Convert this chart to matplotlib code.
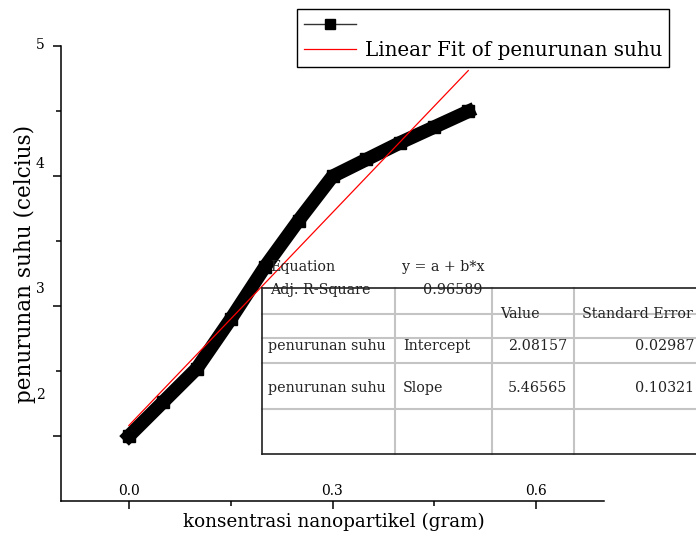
import numpy as np
import matplotlib
matplotlib.use('Agg')
import matplotlib.pyplot as plt
import matplotlib.transforms as mtransforms
from matplotlib.lines import Line2D
from matplotlib.patches import Rectangle

plt.rcParams['font.family'] = ['DejaVu Serif']

# konsentrasi nanopartikel (gram) vs penurunan suhu (celcius)
konsentrasi = np.array([0.0, 0.05, 0.1, 0.15, 0.2, 0.25, 0.3, 0.35, 0.4, 0.45, 0.5])
penurunan_suhu = np.array([2.00, 2.26, 2.52, 2.90, 3.30, 3.66, 4.00, 4.13, 4.26, 4.38, 4.50])

# hasil linear fit
intercept, intercept_err = 2.08157, 0.02987
slope, slope_err = 5.46565, 0.10321
adj_r2 = 0.96589

x_ticks = [0.0, 0.3, 0.6]
y_ticks = [2, 3, 4, 5]
y_label_shift = [43, 19, 14, 3]   # pixel offset of each y tick label

W, H = 696, 535
fig = plt.figure(figsize=(W / 100, H / 100), dpi=100)
ax = fig.add_axes([61 / W, 1 - 501 / H, 543 / W, 454.5 / H])


def fx(px):
    return px / W


def fy(py):
    return 1 - py / H


# data curve (thick band of squares)
ax.plot(konsentrasi, penurunan_suhu, color='black', lw=9.8, marker='s', ms=8.8,
        solid_joinstyle='miter', zorder=3)

# fit line
xf = np.array([konsentrasi[0], konsentrasi[-1]])
ax.plot(xf, intercept + slope * xf, color='red', lw=0.9, zorder=4)

ax.set_xlim(-0.1, 0.7)
ax.set_ylim(1.5, 5)
for s in ['top', 'right']:
    ax.spines[s].set_visible(False)
for s in ['left', 'bottom']:
    ax.spines[s].set_linewidth(1.1)

ax.set_xticks(x_ticks)
ax.set_xticklabels(['%.1f' % v for v in x_ticks])
ax.set_xticks([0.15, 0.45], minor=True)
ax.set_yticks(y_ticks)
ax.set_yticklabels([str(v) for v in y_ticks])
ax.set_yticks([2.5, 3.5, 4.5], minor=True)
ax.tick_params(which='major', direction='out', length=6, width=1.1, labelsize=10)
ax.tick_params(which='minor', direction='out', length=3.5, width=1.1)
ax.tick_params(axis='x', which='major', pad=-18)
ax.tick_params(axis='y', which='major', pad=6)

for lab, d in zip(ax.get_yticklabels(), y_label_shift):
    lab.set_transform(lab.get_transform() +
                      mtransforms.ScaledTranslation(0, d / 100, fig.dpi_scale_trans))

ax.set_xlabel('konsentrasi nanopartikel (gram)', fontsize=13.2)
ax.xaxis.set_label_coords(0.502, -0.046)
ax.xaxis.label.set_va('center')
ax.set_ylabel('penurunan suhu (celcius)', fontsize=15.5)
ax.yaxis.set_label_coords(-0.066, 0.5226)
ax.yaxis.label.set_va('center')

# legend
handles = [Line2D([], [], color='#333333', lw=1, marker='s', ms=7,
                  markerfacecolor='black', markeredgecolor='black'),
           Line2D([], [], color='red', lw=0.9)]
leg = ax.legend(handles, [' ', 'Linear Fit of penurunan suhu'],
                loc='upper left', bbox_to_anchor=(fx(297), fy(9)),
                bbox_transform=fig.transFigure, borderaxespad=0,
                fontsize=14.3, handlelength=2.6, handletextpad=0.45,
                labelspacing=0.3, borderpad=0.36, fancybox=False,
                framealpha=1, edgecolor='black')
leg.get_frame().set_linewidth(1)
leg.set_zorder(10)

# fit result table
tx0, tx1 = 262, 700
ty0, ty1 = 288, 454
fig.add_artist(Rectangle((fx(tx0), fy(ty1)), fx(tx1) - fx(tx0), fy(ty0) - fy(ty1),
                         transform=fig.transFigure, facecolor='white',
                         edgecolor='none', zorder=5))
grey = '#c4c4c4'
for yy in [314, 338, 363, 409]:
    fig.add_artist(Line2D([fx(tx0), fx(tx1)], [fy(yy), fy(yy)], color=grey,
                          lw=1.5, zorder=6))
for xx in [395, 492, 574]:
    fig.add_artist(Line2D([fx(xx), fx(xx)], [fy(ty0), fy(ty1)], color=grey,
                          lw=1.5, zorder=6))
for yy in [ty0, ty1]:
    fig.add_artist(Line2D([fx(tx0), fx(tx1)], [fy(yy), fy(yy)], color='#202020',
                          lw=1.2, zorder=7))
fig.add_artist(Line2D([fx(tx0), fx(tx0)], [fy(ty0), fy(ty1)], color='#202020',
                      lw=1.2, zorder=7))

tkw = dict(fontsize=10.3, va='center', zorder=8, color='#222222')
fig.text(fx(270), fy(267), 'Equation', **tkw)
fig.text(fx(402), fy(267), 'y = a + b*x', **tkw)
fig.text(fx(270), fy(290), 'Adj. R-Square', **tkw)
fig.text(fx(483), fy(290), '%.5f' % adj_r2, ha='right', **tkw)
fig.text(fx(500), fy(314), 'Value', **tkw)
fig.text(fx(582), fy(314), 'Standard Error', **tkw)
rows = [('Intercept', intercept, intercept_err, 346),
        ('Slope', slope, slope_err, 388)]
for name, val, err, yy in rows:
    fig.text(fx(268), fy(yy), 'penurunan suhu', **tkw)
    fig.text(fx(403), fy(yy), name, **tkw)
    fig.text(fx(567), fy(yy), '%.5f' % val, ha='right', **tkw)
    fig.text(fx(694), fy(yy), '%.5f' % err, ha='right', **tkw)

fig.savefig('out.png', dpi=100)
